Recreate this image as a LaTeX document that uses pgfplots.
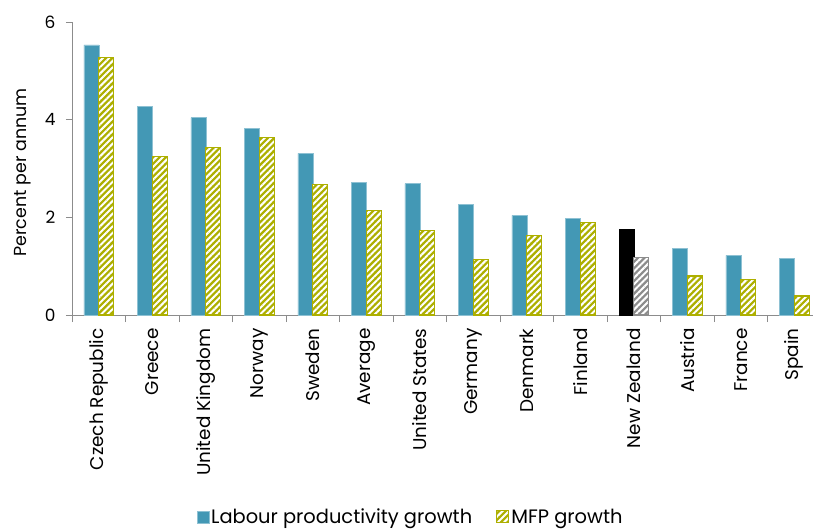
\documentclass[border=0pt]{standalone}
\usepackage{pgfplots}
\pgfplotsset{compat=1.18}
\usepackage{fontspec}
\setmainfont{Poppins}
\usetikzlibrary{patterns.meta}
\definecolor{lpblue}{HTML}{4398B5}
\definecolor{mfpol}{HTML}{ADAF00}
\definecolor{axgray}{HTML}{8C8C8C}
\definecolor{nzgray}{HTML}{8C8C8C}
\tikzset{
  mfpstyle/.style={fill=mfpol, draw=mfpol, line width=1.2pt,
    postaction={pattern={Lines[angle=45,distance=4.5bp,line width=2bp]}, pattern color=white}},
  nzstyle/.style={fill=nzgray, draw=nzgray, line width=1.2pt,
    postaction={pattern={Lines[angle=45,distance=4.5bp,line width=2bp]}, pattern color=white}},
}
\begin{document}
\begin{tikzpicture}
\begin{axis}[
  scale only axis, width=741bp, height=293bp,
  ymin=0, ymax=6, ytick={0,2,4,6},
  xmin=-0.5, xmax=13.35,
  axis x line*=bottom, axis y line*=left,
  axis line style={-, draw=axgray, line width=1pt},
  xtick={0,...,13},
  xticklabels={Czech Republic,Greece,United Kingdom,Norway,Sweden,Average,United States,Germany,Denmark,Finland,New Zealand,Austria,France,Spain},
  major x tick style={draw=none},
  minor xtick={-0.5,0.5,...,12.5},
  minor x tick style={draw=axgray, line width=1pt},
  minor tick length=7bp,
  major tick length=6bp,
  tick align=outside,
  ytick style={draw=axgray, line width=1pt},
  xticklabel style={rotate=90, anchor=east, font=\fontsize{18.5}{20}\selectfont},
  xticklabel shift=4bp,
  yticklabel style={font=\fontsize{17}{18}\selectfont},
  yticklabel shift=7bp,
  /pgf/number format/assume math mode=true,
  ylabel={Percent per annum},
  ylabel style={font=\fontsize{17.5}{18}\selectfont, yshift=7bp, xshift=-4bp},
  legend style={at={(0.457,-0.689)}, anchor=center, draw=none, legend columns=2,
    font=\fontsize{19.5}{21}\selectfont, /tikz/every even column/.append style={column sep=22bp}},
  legend image code/.code={\draw[#1] (0bp,-6bp) rectangle (12bp,6bp);},
]
\addplot[ybar, bar width=15bp, bar shift=-7.5bp, fill=lpblue, draw=lpblue!60!white, line width=0.5pt]
  coordinates {(0,5.53) (1,4.27) (2,4.04) (3,3.82) (4,3.31) (5,2.71) (6,2.69) (7,2.27) (8,2.04) (9,1.98) (11,1.37) (12,1.22) (13,1.16)};
\addlegendentry{Labour productivity growth}
\addplot[ybar, bar width=15bp, bar shift=7.5bp, mfpstyle]
  coordinates {(0,5.27) (1,3.24) (2,3.43) (3,3.63) (4,2.67) (5,2.14) (6,1.73) (7,1.14) (8,1.63) (9,1.90) (11,0.80) (12,0.73) (13,0.39)};
\addlegendentry{MFP growth}
\addplot[ybar, bar width=15bp, bar shift=-7.5bp, fill=black, draw=black, forget plot]
  coordinates {(10,1.76)};
\addplot[ybar, bar width=15bp, bar shift=7.5bp, nzstyle, forget plot]
  coordinates {(10,1.18)};
\end{axis}
\path (current axis.south west) ++(-72bp,-215bp) coordinate (bbA);
\path (current axis.north east) ++(0bp,22bp) coordinate (bbB);
\pgfresetboundingbox
\useasboundingbox (bbA) rectangle (bbB);
\end{tikzpicture}
\end{document}
